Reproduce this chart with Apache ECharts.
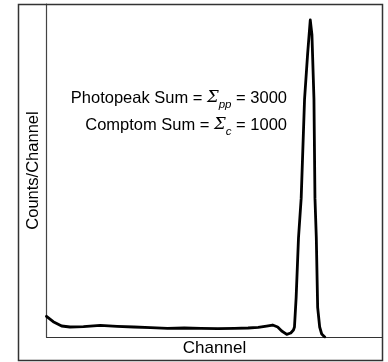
<!DOCTYPE html>
<html>
<head>
<meta charset="utf-8">
<script src="https://cdn.jsdelivr.net/npm/echarts@6/dist/echarts.min.js"></script>
<style>
html,body{margin:0;padding:0;background:#fff;}
#chart{width:388px;height:362px;}
</style>
</head>
<body>
<div id="chart"></div>
<script>
// Channel positions (0-100 scale) and counts per channel (0-100 scale)
var channels = [0, 2, 4.5, 7, 11, 16, 21, 26, 31, 36, 41, 46, 51, 56, 60, 63, 65.5, 67.3, 68.8, 70, 71.5, 72.7, 73.5, 73.8, 74.3, 75.0, 75.8, 76.8, 77.7, 78.5, 79.0, 79.6, 79.9, 80.3, 80.7, 81.3, 81.9, 82.8];
var counts   = [6.2, 4.6, 3.3, 3.0, 3.1, 3.5, 3.2, 3.0, 2.8, 2.6, 2.7, 2.6, 2.5, 2.6, 2.7, 2.9, 3.3, 3.6, 3.0, 1.8, 0.8, 1.2, 2.1, 3.0, 11.9, 29.8, 41.7, 71.4, 84.8, 95.2, 90.8, 71.4, 41.7, 29.8, 8.9, 3.0, 0.9, 0];
var xAxisName = 'Channel';
var yAxisName = 'Counts/Channel';
var annotationLine1 = ['Photopeak Sum = ', 'Σ', 'pp', ' = 3000'];
var annotationLine2 = ['Comptom Sum = ', 'Σ', 'c', ' = 1000'];

var seriesData = channels.map(function (c, i) { return [c, counts[i]]; });

var chart = echarts.init(document.getElementById('chart'), null, {renderer: 'canvas'});
var FONT = 'Liberation Sans, Arial, Helvetica, sans-serif';
var rich = {
  m: {fontSize: 16.5, fontFamily: FONT, color: '#000', lineHeight: 20, verticalAlign: 'middle'},
  s: {fontSize: 16.5, fontFamily: 'DejaVu Serif, serif', fontStyle: 'italic', color: '#000', lineHeight: 20, verticalAlign: 'middle'},
  sub: {fontSize: 11.5, fontFamily: FONT, fontStyle: 'italic', color: '#000', lineHeight: 10, verticalAlign: 'bottom', padding: [0, 0, -3, 0]}
};
function richText(parts) {
  return '{m|' + parts[0] + '}{s|' + parts[1] + '}{sub|' + parts[2] + '}{m|' + parts[3] + '}';
}
chart.setOption({
  animation: false,
  backgroundColor: '#fff',
  grid: {left: 46.5, right: 5.5, top: 4, bottom: 22, containLabel: false},
  xAxis: {
    type: 'value', min: 0, max: 100,
    name: xAxisName, nameLocation: 'middle', nameGap: 3,
    nameTextStyle: {fontSize: 17, fontFamily: FONT, color: '#000', verticalAlign: 'top'},
    axisLine: {show: true, lineStyle: {color: '#333', width: 1.2}},
    axisTick: {show: false}, axisLabel: {show: false}, splitLine: {show: false}
  },
  yAxis: {
    type: 'value', min: 0, max: 100,
    name: yAxisName, nameLocation: 'middle', nameGap: 5,
    nameTextStyle: {fontSize: 16.5, fontFamily: FONT, color: '#000'},
    axisLine: {show: true, lineStyle: {color: '#444', width: 1.2}},
    axisTick: {show: false}, axisLabel: {show: false}, splitLine: {show: false}
  },
  graphic: [
    {type: 'rect', shape: {x: 18.5, y: 4.5, width: 364, height: 356}, style: {fill: 'none', stroke: '#333', lineWidth: 1.5}, z: 100, silent: true},
    {type: 'text', x: 287, y: 98, style: {text: richText(annotationLine1), rich: rich, align: 'right', verticalAlign: 'middle'}},
    {type: 'text', x: 287, y: 125, style: {text: richText(annotationLine2), rich: rich, align: 'right', verticalAlign: 'middle'}}
  ],
  series: [{
    type: 'line', data: seriesData, showSymbol: false, smooth: false,
    lineStyle: {color: '#000', width: 2.8, join: 'round', cap: 'round'}
  }]
});
</script>
</body>
</html>
